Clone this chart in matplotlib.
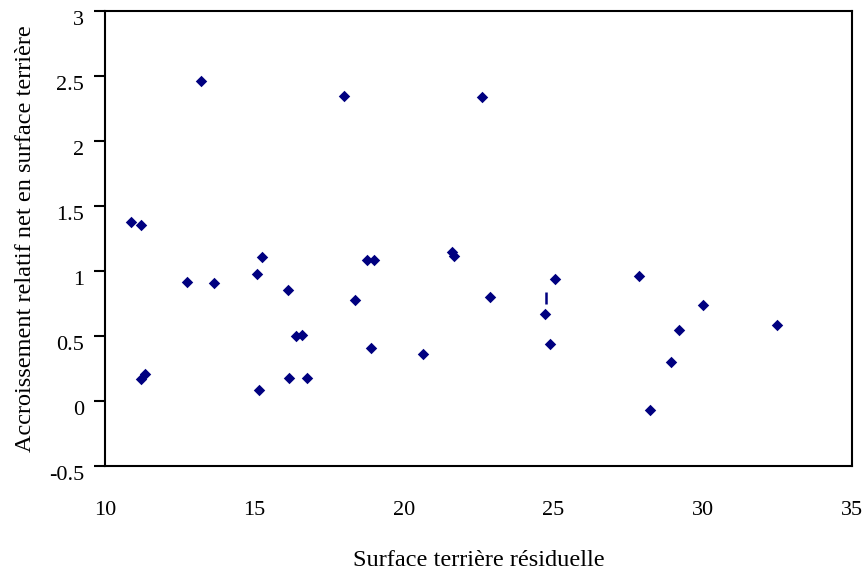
import matplotlib
matplotlib.use("Agg")
import matplotlib.pyplot as plt
import matplotlib.transforms as mtransforms

# surface terriere residuelle vs accroissement relatif net
surf_res = [10.87, 11.19, 11.2, 11.35, 12.74, 13.2, 13.64, 15.09, 15.16, 15.27,
            16.12, 16.16, 16.39, 16.6, 16.76, 17.99, 18.37, 18.77, 18.9, 19.0,
            20.66, 21.6, 21.68, 22.61, 22.9, 24.73, 24.88, 25.05, 27.88, 28.25,
            28.93, 29.2, 30.0, 32.49]
accr_rel = [1.377, 1.354, 0.17, 0.205, 0.913, 2.46, 0.908, 0.977, 0.087, 1.104,
            0.852, 0.178, 0.497, 0.505, 0.178, 2.35, 0.775, 1.084, 0.405, 1.084,
            0.362, 1.148, 1.117, 2.34, 0.803, 0.673, 0.438, 0.941, 0.959, -0.069,
            0.301, 0.543, 0.737, 0.587]

# stray dash seen in the original export
dash_x = [24.76]
dash_y = [0.795]

plt.rcParams['font.family'] = ['Liberation Serif', 'DejaVu Serif']

fig = plt.figure(figsize=(8.66, 5.71), dpi=100)
ax = fig.add_axes([0.1212, 0.1839, 0.8626, 0.7968])

ax.scatter(surf_res, accr_rel, marker='D', s=34, color='#000080', linewidths=0)
ax.scatter(dash_x, dash_y, marker='|', s=70, color='#000080', linewidths=1.8)

ax.set_xlim(10, 35)
ax.set_ylim(-0.5, 3)
ax.set_xticks([10, 15, 20, 25, 30, 35])
ax.set_yticks([-0.5, 0, 0.5, 1, 1.5, 2, 2.5, 3])
ax.set_yticklabels(['-0.5', '0', '0.5', '1', '1.5', '2', '2.5', '3'])
ax.tick_params(axis='x', length=0, pad=25, labelsize=16)
ax.tick_params(axis='y', length=8, width=1.5, direction='out', pad=7, labelsize=16)
# y labels sit a little below their ticks in the original
shift = mtransforms.ScaledTranslation(0, -7 / 100, fig.dpi_scale_trans)
for lab in ax.get_yticklabels():
    lab.set_transform(lab.get_transform() + shift)
for sp in ax.spines.values():
    sp.set_linewidth(1.5)

ax.set_xlabel('Surface terrière résiduelle', fontsize=17.5, labelpad=22)
ax.set_ylabel('Accroissement relatif net en surface terrière', fontsize=17.5, labelpad=9.5)

fig.savefig('out.png', dpi=100)
